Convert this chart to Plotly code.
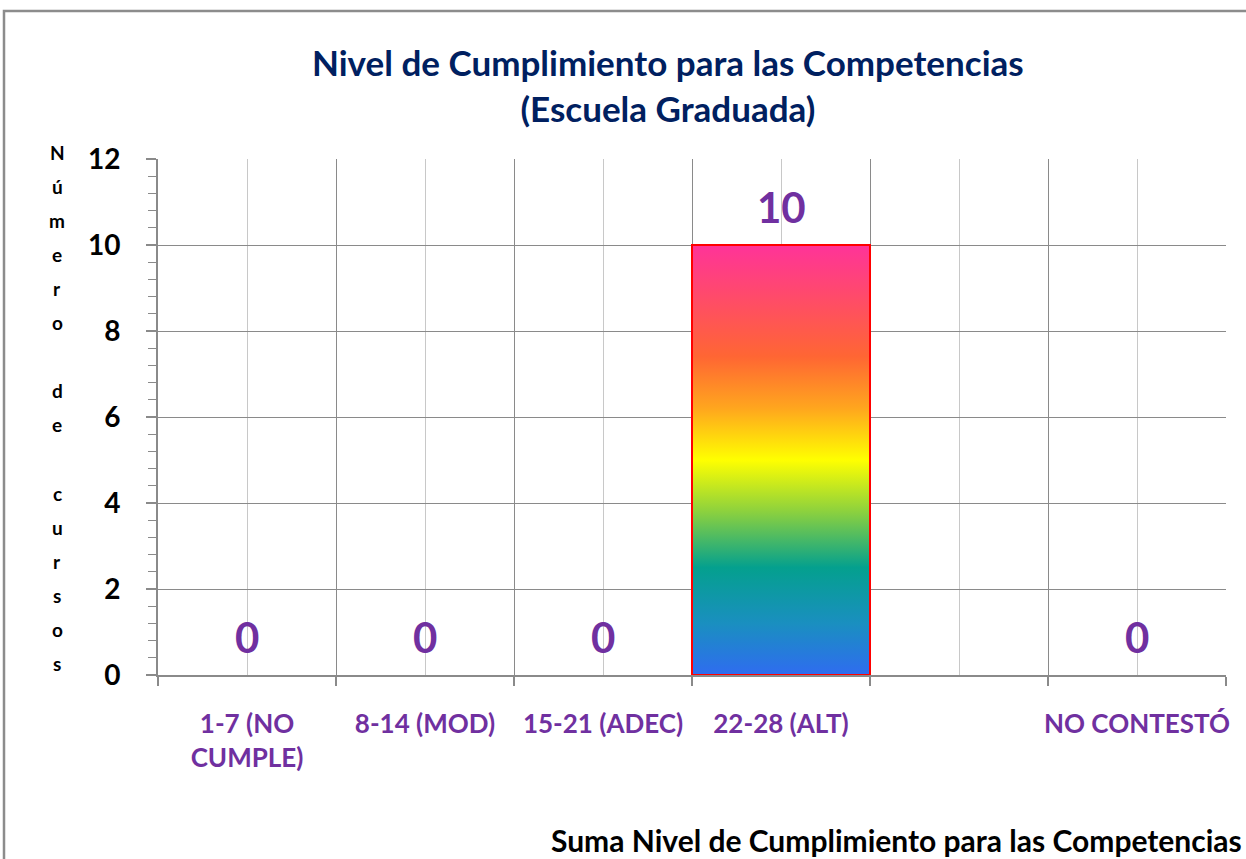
import plotly.graph_objects as go

categories = ["1-7 (NO<br>CUMPLE)", "8-14 (MOD)", "15-21 (ADEC)", "22-28 (ALT)", "", "NO CONTESTÓ"]
values = [0, 0, 0, 10, None, 0]
y_ticks = [0, 2, 4, 6, 8, 10, 12]

title_text = "Nivel de Cumplimiento para las Competencias<br>(Escuela Graduada)"
y_title = "Número de cursos"
x_title = "Suma Nivel de Cumplimiento para las Competencias"

FONT = "Lato"
PURPLE = "#7030A0"
GRID_DARK = "#8a8a8a"
GRID_LIGHT = "#c8c8c8"

gradient = [
    [0.0, "#2f6cf0"],
    [0.12, "#1a8fc0"],
    [0.25, "#04a08e"],
    [0.38, "#8cd13e"],
    [0.50, "#ffff00"],
    [0.62, "#ffa61e"],
    [0.74, "#ff6633"],
    [1.0, "#ff3399"],
]

idx = list(range(len(categories)))
fig = go.Figure()

# gradient-filled bars (one polygon per non-zero bar, built from the data)
for i, v in zip(idx, values):
    if v:
        fig.add_trace(go.Scatter(
            x=[i - 0.5, i + 0.5, i + 0.5, i - 0.5, i - 0.5],
            y=[0, 0, v, v, 0],
            mode="lines",
            fill="toself",
            fillgradient=dict(type="vertical", colorscale=gradient),
            line=dict(color="#ff0000", width=2),
            hoverinfo="skip",
            showlegend=False,
        ))

# data labels
for i, v in zip(idx, values):
    if v is not None:
        fig.add_annotation(x=i, y=v, text=f"<b>{v}</b>", showarrow=False,
                           yshift=38, xref="x", yref="y",
                           font=dict(family=FONT, size=42, color=PURPLE))

fig.update_layout(
    width=1246, height=859,
    margin=dict(l=158, r=20, t=159, b=184),
    paper_bgcolor="white", plot_bgcolor="white",
    showlegend=False,
    title=dict(text=f"<b>{title_text}</b>", x=0.536, xanchor="center",
               y=1 - 76 / 859, yanchor="middle", xref="container", yref="container",
               font=dict(family=FONT, size=35, color="#002060")),
)

fig.update_xaxes(
    range=[-0.5, len(categories) - 0.5],
    tickmode="array", tickvals=idx,
    ticktext=[f"<b>{c}</b>" for c in categories],
    ticks="", showgrid=True, gridcolor=GRID_LIGHT, gridwidth=1,
    tickfont=dict(family=FONT, size=26, color=PURPLE),
    ticklabelstandoff=25,
    showline=True, linecolor=GRID_DARK, linewidth=2,
    zeroline=False,
    minor=dict(tickmode="array", tickvals=[i - 0.5 for i in idx] + [len(categories) - 0.5],
               ticks="outside", ticklen=9, tickcolor=GRID_DARK, tickwidth=2,
               showgrid=True, gridcolor=GRID_DARK, gridwidth=1),
)

fig.update_yaxes(
    range=[0, 12], tickmode="array", tickvals=y_ticks,
    ticktext=[f"<b>{t}</b>" for t in y_ticks],
    ticks="outside", ticklen=10, tickcolor=GRID_DARK, tickwidth=2,
    showgrid=True, gridcolor=GRID_DARK, gridwidth=1,
    showline=True, linecolor=GRID_DARK, linewidth=2, zeroline=False,
    tickfont=dict(family=FONT, size=28, color="black"),
    ticklabelstandoff=20,
    minor=dict(dtick=0.4, ticks="outside", ticklen=8, tickcolor=GRID_DARK, tickwidth=1, showgrid=False),
)

# stacked vertical y-axis title, one letter per line
plot_top, plot_bottom = 159, 675
plot_h = plot_bottom - plot_top
lines = []
for w_i, word in enumerate(y_title.split(" ")):
    if w_i > 0:
        lines.append("")
    lines.extend(list(word))
for k, ch in enumerate(lines):
    if ch:
        py = 152 + 34.1 * k
        fig.add_annotation(x=(57 - 158) / 1068, y=(plot_bottom - py) / plot_h,
                           xref="paper", yref="paper", xanchor="center", yanchor="middle",
                           text=f"<b>{ch}</b>", showarrow=False,
                           font=dict(family=FONT, size=19, color="black"))

# x-axis title
fig.add_annotation(x=(1244 - 158) / 1068, y=(plot_bottom - 840) / plot_h,
                   xref="paper", yref="paper", xanchor="right", yanchor="middle",
                   text=f"<b>{x_title}</b>", showarrow=False,
                   font=dict(family=FONT, size=30, color="black"))

# chart frame border
fig.add_shape(type="rect", xref="paper", yref="paper",
              x0=(4 - 158) / 1068, x1=(1260 - 158) / 1068,
              y0=(plot_bottom - 900) / plot_h, y1=(plot_bottom - 11) / plot_h,
              line=dict(color="#8c8c8c", width=2.5), fillcolor="rgba(0,0,0,0)", layer="below")

fig.write_html("out.html", config={"displayModeBar": False},
               post_script="document.body.style.margin='0';document.body.style.overflow='hidden';")
